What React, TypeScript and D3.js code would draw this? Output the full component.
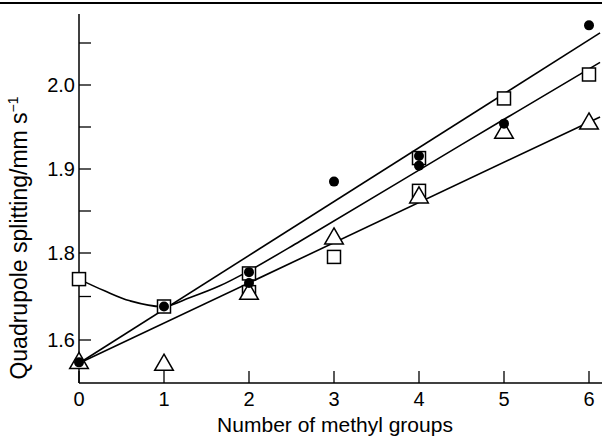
import * as d3 from "d3";
import { useEffect, useRef } from "react";

// number of methyl groups on the x axis
const methylGroups = [0, 1, 2, 3, 4, 5, 6];

// filled circles
const circleX = [0, 1, 2, 2, 3, 4, 4, 5, 6];
const circleY = [1.574, 1.677, 1.756, 1.731, 1.885, 1.9155, 1.904, 1.954, 2.071];
// open squares
const squareX = [0, 1, 2, 2, 3, 4, 4, 5, 6];
const squareY = [1.74, 1.677, 1.753, 1.71, 1.791, 1.913, 1.874, 1.984, 2.0125];
// open triangles
const triangleX = [0, 1, 2, 3, 4, 5, 6];
const triangleY = [1.573, 1.571, 1.706, 1.817, 1.866, 1.943, 1.954];

// drawn fit lines
const lineTop: [number, number][] = [[0, 1.573], [6.13, 2.062]];
const lineBottom: [number, number][] = [[0, 1.573], [6.13, 1.962]];
const curveMid: [number, number][] = [
  [0, 1.74], [0.3, 1.713], [0.6, 1.69], [1, 1.677], [1.3, 1.697],
  [1.65, 1.724], [2, 1.759], [2.6, 1.814], [4.5, 1.929], [6.13, 2.027],
];

// axis ticks as printed (the lower part of the printed axis is compressed)
const yTicks = [1.6, 1.7, 1.8, 1.85, 1.9, 1.95, 2.0, 2.05];
const yTickLabels = [1.6, 1.8, 1.9, 2.0];

const font = "'Liberation Sans', Arial, sans-serif";

const App = () => {
  const ref = useRef<SVGSVGElement>(null);

  useEffect(() => {
    const svg = d3.select(ref.current);
    svg.selectAll("*").remove();

    const x = d3.scaleLinear().domain([0, 6]).range([79, 589]);
    const y = d3.scaleLinear().domain([1.55, 1.6, 1.8, 2.05]).range([383, 340, 253, 43]);

    // scan edge at the top
    svg.append("line")
      .attr("x1", 0).attr("x2", 602).attr("y1", 3).attr("y2", 3)
      .attr("stroke", "#000").attr("stroke-width", 2);

    // axes
    svg.append("line")
      .attr("x1", x(0)).attr("x2", x(0)).attr("y1", 14).attr("y2", y(1.55))
      .attr("stroke", "#000").attr("stroke-width", 1.5);
    svg.append("line")
      .attr("x1", x(0)).attr("x2", 602).attr("y1", y(1.55)).attr("y2", y(1.55))
      .attr("stroke", "#000").attr("stroke-width", 1.5);

    svg.selectAll(".ytick")
      .data(yTicks)
      .enter()
      .append("line")
      .attr("x1", x(0)).attr("x2", x(0) + 12)
      .attr("y1", (d) => y(d)).attr("y2", (d) => y(d))
      .attr("stroke", "#000").attr("stroke-width", 1.3);

    svg.selectAll(".ylab")
      .data(yTickLabels)
      .enter()
      .append("text")
      .attr("x", x(0) - 4)
      .attr("y", (d) => y(d) + 7)
      .attr("text-anchor", "end")
      .style("font-family", font).style("font-size", "20px")
      .text((d) => d3.format(".1f")(d));

    svg.selectAll(".xtick")
      .data(methylGroups)
      .enter()
      .append("line")
      .attr("x1", (d) => x(d)).attr("x2", (d) => x(d))
      .attr("y1", y(1.55)).attr("y2", y(1.55) - 12)
      .attr("stroke", "#000").attr("stroke-width", 1.3);

    svg.selectAll(".xlab")
      .data(methylGroups)
      .enter()
      .append("text")
      .attr("x", (d) => x(d))
      .attr("y", 406)
      .attr("text-anchor", "middle")
      .style("font-family", font).style("font-size", "20px")
      .text((d) => d);

    svg.append("text")
      .attr("x", 335).attr("y", 432)
      .attr("text-anchor", "middle")
      .style("font-family", font).style("font-size", "21px")
      .text("Number of methyl groups");

    const yl = svg.append("text")
      .attr("transform", "translate(27,238) rotate(-90)")
      .attr("text-anchor", "middle")
      .style("font-family", font).style("font-size", "23px");
    yl.append("tspan").text("Quadrupole splitting/mm s");
    yl.append("tspan").attr("dy", -9).style("font-size", "14px").text("\u22121");

    // fit lines
    const line = d3.line<[number, number]>().x((d) => x(d[0])).y((d) => y(d[1]));
    [lineTop, lineBottom].forEach((l) => {
      svg.append("path").attr("d", line(l)).attr("fill", "none")
        .attr("stroke", "#000").attr("stroke-width", 1.6);
    });
    svg.append("path")
      .attr("d", line.curve(d3.curveCatmullRom)(curveMid))
      .attr("fill", "none").attr("stroke", "#000").attr("stroke-width", 1.6);

    // squares
    svg.selectAll(".sq")
      .data(squareX.map((d, i) => [d, squareY[i]]))
      .enter()
      .append("rect")
      .attr("x", (d) => x(d[0]) - 6.5).attr("y", (d) => y(d[1]) - 6.5)
      .attr("width", 13).attr("height", 13)
      .attr("fill", "#fff").attr("stroke", "#000").attr("stroke-width", 1.5);

    // triangles
    const tri = d3.symbol().type(d3.symbolTriangle).size(150);
    svg.selectAll(".tri")
      .data(triangleX.map((d, i) => [d, triangleY[i]]))
      .enter()
      .append("path")
      .attr("d", tri)
      .attr("transform", (d) => `translate(${x(d[0])},${y(d[1])})`)
      .attr("fill", "#fff").attr("stroke", "#000").attr("stroke-width", 1.5);

    // circles
    svg.selectAll(".dot")
      .data(circleX.map((d, i) => [d, circleY[i]]))
      .enter()
      .append("circle")
      .attr("cx", (d) => x(d[0])).attr("cy", (d) => y(d[1]))
      .attr("r", 5)
      .attr("fill", "#000");
  }, []);

  return (
    <svg ref={ref} width={602} height={441}
      style={{ position: "absolute", left: 0, top: 0, background: "#fff" }} />
  );
};

export default App;
